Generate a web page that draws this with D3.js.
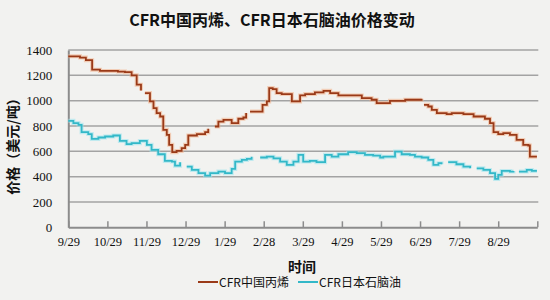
<!DOCTYPE html>
<html><head><meta charset="utf-8">
<script src="https://cdn.jsdelivr.net/npm/d3@7"></script>
<style>
html,body{margin:0;padding:0;background:#f2f2f0;}
svg{display:block;}
</style></head>
<body>
<svg id="chart" width="550" height="300"></svg>
<script>
// ---- data (x in months after 9/29) ----
const tickLabels = ["9/29","10/29","11/29","12/29","1/29","2/28","3/29","4/29","5/29","6/29","7/29","8/29"];
const yTicks = [0,200,400,600,800,1000,1200,1400];

const propyleneX = [0,0.30,0.45,0.61,0.81,1.07,1.27,1.45,1.62,1.75,1.86,1.92,1.96,2.09,2.18,2.26,2.35,2.43,2.52,2.58,2.66,2.77,2.90,2.99,3.07,3.29,3.50,3.58,3.64,3.70,3.75,3.84,3.97,4.18,4.35,4.48,4.55,4.58,4.62,4.65,4.91,4.97,5.08,5.14,5.23,5.33,5.46,5.63,5.72,5.89,5.93,6.06,6.31,6.53,6.70,6.91,7.21,7.51,7.76,7.89,8.15,8.23,8.62,8.87,9.04,9.07,9.10,9.21,9.30,9.43,9.68,9.81,10.11,10.37,10.66,10.79,10.88,11.00,11.13,11.30,11.47,11.64,11.77,11.81,11.99];
const propyleneY = [1350,1340,1320,1245,1235,1235,1230,1225,1200,1126,1080,null,1060,994,941,902,875,770,730,651,593,603,625,651,725,736,751,778,null,null,796,835,849,823,857,867,902,null,null,914,914,967,994,1099,1091,1060,1052,1052,994,994,1041,1052,1065,1078,1060,1041,1041,1020,1007,981,981,999,1007,1007,1015,null,967,954,928,902,894,902,894,875,857,823,751,736,744,730,690,651,646,558,558];

const naphthaX = [0,0.13,0.26,0.34,0.51,0.60,0.77,0.94,1.15,1.32,1.49,1.62,1.83,2.01,2.13,2.30,2.47,2.65,2.73,2.86,2.92,2.98,3.03,3.16,3.33,3.50,3.63,3.84,4.01,4.18,4.27,4.44,4.57,4.69,4.75,4.85,4.91,5.08,5.25,5.42,5.59,5.76,5.89,6.01,6.18,6.35,6.57,6.74,6.91,7.16,7.38,7.59,7.80,7.98,8.06,8.23,8.36,8.53,8.74,8.87,9.04,9.21,9.34,9.47,9.55,9.60,9.68,9.72,9.93,10.11,10.28,10.33,10.40,10.45,10.62,10.79,10.92,11.00,11.09,11.30,11.39,11.44,11.50,11.53,11.73,11.86,11.99];
const naphthaY = [841,823,809,751,736,698,709,717,725,682,657,664,682,651,611,577,524,519,487,514,null,null,479,453,427,408,427,440,427,461,519,532,540,558,null,null,551,558,545,519,493,519,572,519,524,514,572,558,577,593,585,572,566,551,558,558,598,577,572,558,551,532,493,506,498,null,null,514,498,479,466,null,null,466,453,427,382,414,445,440,445,null,null,440,453,445,445];

const seriesNames = ["CFR中国丙烯","CFR日本石脑油"];
const seriesColors = ["#9a3a18","#33b8c8"];
const haloColors = ["#f2b490","#9fe4ee"];

// ---- layout ----
const W = 550, H = 300;
const pLeft = 68.3, pRight = 537.3, pTop = 50, pBottom = 227.3;
const svg = d3.select("#chart");
svg.append("rect").attr("width",W).attr("height",H).attr("fill","#f2f2f0");

const x = d3.scaleLinear().domain([0,12]).range([pLeft,pRight]);
const y = d3.scaleLinear().domain([0,1400]).range([pBottom,pTop]);

const serif = "'Liberation Serif','DejaVu Serif',serif";
const cjk = "'Noto Sans CJK SC','Noto Sans',sans-serif";

// gridlines
svg.append("g").selectAll("line").data(yTicks.filter(d=>d>0)).join("line")
  .attr("x1",pLeft).attr("x2",pRight+1)
  .attr("y1",d=>y(d)).attr("y2",d=>y(d))
  .attr("stroke","#a3a3a3").attr("stroke-width",1.5);

// y axis
const yAxis = svg.append("g").attr("transform",`translate(${pLeft},0)`)
  .call(d3.axisLeft(y).tickValues(yTicks).tickSize(0).tickPadding(16).tickFormat(d3.format("d")));
yAxis.select(".domain").attr("stroke","#8c8c8c").attr("stroke-width",2);
yAxis.selectAll("text").attr("font-family",serif).attr("font-size",13).attr("fill","#111");

// x axis
const xAxis = svg.append("g").attr("transform",`translate(0,${pBottom})`)
  .call(d3.axisBottom(x).tickValues(d3.range(0,13)).tickSizeInner(-6).tickSizeOuter(0)
    .tickPadding(10).tickFormat(i => i < tickLabels.length ? tickLabels[i] : ""));
xAxis.select(".domain").attr("stroke","#8c8c8c").attr("stroke-width",2);
xAxis.selectAll(".tick line").attr("stroke","#8c8c8c").attr("stroke-width",1.5);
xAxis.selectAll("text").attr("font-family",serif).attr("font-size",12.5).attr("fill","#111");

// lines
const seriesData = [
  propyleneX.map((v,i)=>({x:v,y:propyleneY[i]})),
  naphthaX.map((v,i)=>({x:v,y:naphthaY[i]}))
];
const line = d3.line().defined(d=>d.y!==null).x(d=>x(d.x)).y(d=>y(d.y)).curve(d3.curveStepAfter);
seriesData.forEach((s,i)=>{
  svg.append("path").datum(s).attr("d",line).attr("fill","none")
    .attr("stroke",haloColors[i]).attr("stroke-width",4).attr("stroke-opacity",0.6);
  svg.append("path").datum(s).attr("d",line).attr("fill","none")
    .attr("stroke",seriesColors[i]).attr("stroke-width",1.8);
});

// title
svg.append("text").attr("x",272).attr("y",26).attr("text-anchor","middle")
  .attr("font-family",cjk).attr("font-weight","bold").attr("font-size",16).attr("fill","#111")
  .text("CFR中国丙烯、CFR日本石脑油价格变动");

// y title
svg.append("text").attr("transform","translate(18,143) rotate(-90)").attr("text-anchor","middle")
  .attr("font-family",cjk).attr("font-weight","bold").attr("font-size",14).attr("fill","#111")
  .text("价格（美元/吨）");

// x title
svg.append("text").attr("x",302).attr("y",272).attr("text-anchor","middle")
  .attr("font-family",cjk).attr("font-weight","bold").attr("font-size",14).attr("fill","#111")
  .text("时间");

// legend
const legendX = [198,298];
seriesNames.forEach((n,i)=>{
  const g = svg.append("g").attr("transform",`translate(${legendX[i]},282)`);
  g.append("line").attr("x1",0).attr("x2",20).attr("y1",0).attr("y2",0)
    .attr("stroke",seriesColors[i]).attr("stroke-width",2);
  g.append("text").attr("x",21).attr("y",4.5).attr("font-family",cjk).attr("font-size",12)
    .attr("fill","#111").text(n);
});
</script>
</body></html>
